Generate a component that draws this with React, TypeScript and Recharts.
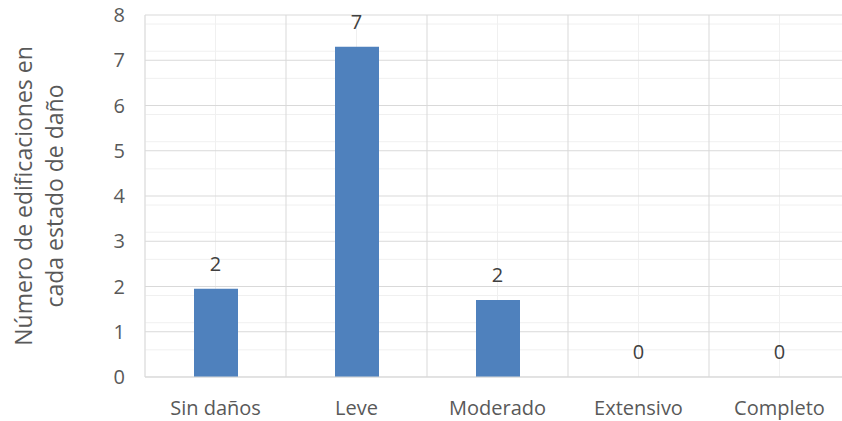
import { Bar, CartesianGrid, ComposedChart, LabelList, Line, XAxis, YAxis } from "recharts";

// the page comes with an 8px body margin; the chart is laid out against the window edge
if (typeof document !== "undefined") document.body.style.margin = "0";

const CATEGORIES = ["Sin daños", "Leve", "Moderado", "Extensivo", "Completo"];
const BUILDINGS = [1.95, 7.3, 1.7, 0, 0];
const SHOWN_LABELS = ["2", "7", "2", "0", "0"];
const Y_TICKS = [0, 1, 2, 3, 4, 5, 6, 7, 8];
const MINOR_Y = [
  0.2, 0.4, 0.6, 0.8, 1.2, 1.4, 1.6, 1.8, 2.2, 2.4, 2.6, 2.8, 3.2, 3.4, 3.6, 3.8,
  4.2, 4.4, 4.6, 4.8, 5.2, 5.4, 5.6, 5.8, 6.2, 6.4, 6.6, 6.8, 7.2, 7.4, 7.6, 7.8,
];
const Y_TITLE = ["Número de edificaciones en", "cada estado de daño"];

const data = CATEGORIES.map((name, i) => ({
  name,
  value: BUILDINGS[i],
  label: SHOWN_LABELS[i],
}));

const FONT = "'Open Sans', 'Noto Sans', sans-serif";
const TEXT = "#595959";

function YTitle(props: any) {
  const vb = props.viewBox || {};
  const cy = (vb.y ?? 15) + (vb.height ?? 362) / 2;
  const xs = [32, 63];
  return (
    <g>
      {Y_TITLE.map((line, i) => (
        <text
          key={i}
          x={xs[i]}
          y={cy}
          textAnchor="middle"
          transform={`rotate(-90, ${xs[i]}, ${cy})`}
          fill={TEXT}
          fontSize={23}
          fontFamily={FONT}
        >
          {line}
        </text>
      ))}
    </g>
  );
}

export default function App() {
  return (
    <div style={{ width: 842, height: 421, overflow: "hidden", background: "#fff" }}>
      <ComposedChart
        width={870}
        height={421}
        data={data}
        margin={{ top: 15, right: 20, bottom: 0, left: 85 }}
        barSize={44}
      >
        <CartesianGrid stroke="#f0f0f0" horizontalValues={MINOR_Y} />
        <CartesianGrid
          stroke="#d9d9d9"
          verticalCoordinatesGenerator={({ offset }: any) =>
            CATEGORIES.map((_, i) => offset.left + (i * offset.width) / CATEGORIES.length).concat(
              offset.left + offset.width
            )
          }
        />
        <XAxis
          dataKey="name"
          height={44}
          tickLine={false}
          axisLine={{ stroke: "#d9d9d9" }}
          tickMargin={18}
          tick={{ fill: TEXT, fontSize: 20, fontFamily: FONT }}
        />
        <YAxis
          width={60}
          domain={[0, 8]}
          ticks={Y_TICKS}
          axisLine={false}
          tickLine={false}
          tickMargin={14}
          tick={{ fill: TEXT, fontSize: 20, fontFamily: FONT }}
          label={{ content: <YTitle /> }}
        />
        <Bar dataKey="value" fill="#4f81bd" isAnimationActive={false} />
        {/* labels ride on an invisible line so the zero bars still get theirs */}
        <Line
          dataKey="value"
          stroke="none"
          dot={false}
          activeDot={false}
          legendType="none"
          isAnimationActive={false}
        >
          <LabelList
            dataKey="label"
            position="top"
            offset={18}
            fill="#404040"
            fontSize={20}
            fontFamily={FONT}
          />
        </Line>
      </ComposedChart>
    </div>
  );
}
